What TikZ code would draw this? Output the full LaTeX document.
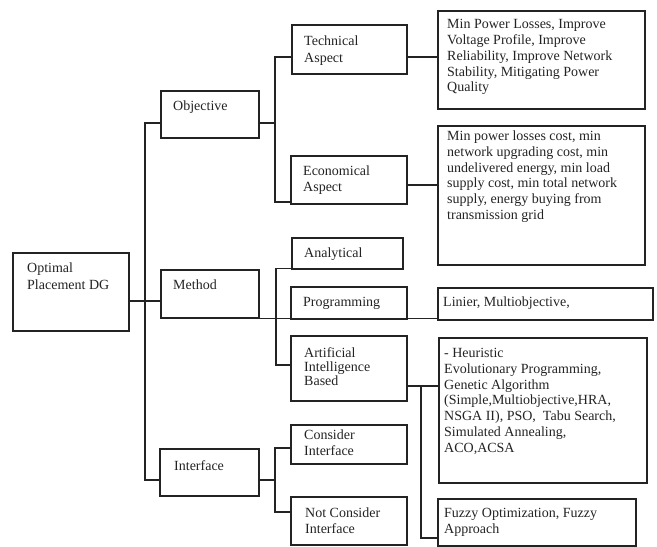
\documentclass[tikz,border=0pt]{standalone}
\usepackage{fontspec}
\setmainfont{Liberation Serif}
\definecolor{ink}{RGB}{35,35,35}
\begin{document}
\begin{tikzpicture}[x=1pt,y=-1pt,
  box/.style={draw=ink, line width=1.4pt, inner sep=0pt, outer sep=0pt, anchor=north west},
  lbl/.style={text=ink, font=\fontsize{14}{16}\selectfont, align=left, inner sep=0pt, anchor=north west,
              execute at begin node=\rule{0pt}{10pt}},
  wire/.style={draw=ink, line width=1.4pt}]
\useasboundingbox (0,0) rectangle (657,547);

% boxes
\node[box, minimum width=116pt, minimum height=78pt] (opt) at (13,253) {};
\node[box, minimum width=98pt, minimum height=47pt] (obj) at (161,91) {};
\node[box, minimum width=98pt, minimum height=48pt] (met) at (161,270) {};
\node[box, minimum width=99pt, minimum height=47pt] (int) at (160,449) {};
\node[box, minimum width=115pt, minimum height=49pt] (tech) at (292,25) {};
\node[box, minimum width=116pt, minimum height=48pt] (econ) at (291,156) {};
\node[box, minimum width=111pt, minimum height=31pt] (ana) at (292,238) {};
\node[box, minimum width=116pt, minimum height=32pt] (prog) at (291,287) {};
\node[box, minimum width=116pt, minimum height=65pt] (ai) at (291,336) {};
\node[box, minimum width=116pt, minimum height=39pt] (cons) at (291,425) {};
\node[box, minimum width=116pt, minimum height=48pt] (ncons) at (291,497) {};
\node[box, minimum width=207pt, minimum height=98pt] (techd) at (438,11) {};
\node[box, minimum width=207pt, minimum height=139pt] (econd) at (438,126) {};
\node[box, minimum width=215pt, minimum height=32pt] (lin) at (438,288) {};
\node[box, minimum width=208pt, minimum height=145pt] (aid) at (439,338) {};
\node[box, minimum width=198pt, minimum height=47pt] (fuz) at (438,499) {};

% texts
\node[lbl, font=\fontsize{14}{16.5}\selectfont] (optT) at ([shift={(14,10)}]opt.north west) {Optimal\\Placement DG};
\node[lbl] (objT) at ([shift={(12,9)}]obj.north west) {Objective};
\node[lbl] (metT) at ([shift={(12,9.5)}]met.north west) {Method};
\node[lbl] (intT) at ([shift={(14,11)}]int.north west) {Interface};
\node[lbl, font=\fontsize{14}{16.7}\selectfont] (techT) at ([shift={(12,10.5)}]tech.north west) {Technical\\Aspect};
\node[lbl] (econT) at ([shift={(12,10)}]econ.north west) {Economical\\Aspect};
\node[lbl] (anaT) at ([shift={(12,9)}]ana.north west) {Analytical};
\node[lbl] (progT) at ([shift={(12,9.5)}]prog.north west) {Programming};
\node[lbl, font=\fontsize{14}{14.3}\selectfont] (aiT) at ([shift={(13,11)}]ai.north west) {Artificial\\Intelligence\\Based};
\node[lbl] (consT) at ([shift={(13,4.5)}]cons.north west) {Consider\\Interface};
\node[lbl] (nconsT) at ([shift={(14,11)}]ncons.north west) {Not Consider\\Interface};
\node[lbl, font=\fontsize{14}{15.7}\selectfont] (techdT) at ([shift={(9,8.5)}]techd.north west)
  {Min Power Losses, Improve\\Voltage Profile, Improve\\Reliability, Improve Network\\Stability, Mitigating Power\\Quality};
\node[lbl, font=\fontsize{14}{15.8}\selectfont] (econdT) at ([shift={(9,4.5)}]econd.north west)
  {Min power losses cost, min\\network upgrading cost, min\\undelivered energy, min load\\supply cost, min total network\\supply, energy buying from\\transmission grid};
\node[lbl] (linT) at ([shift={(5,8.5)}]lin.north west) {Linier, Multiobjective,};
\node[lbl, font=\fontsize{14}{15.8}\selectfont] (aidT) at ([shift={(5,10)}]aid.north west)
  {- Heuristic\\Evolutionary Programming,\\Genetic Algorithm\\(Simple,Multiobjective,HRA,\\NSGA II), PSO,\ \ Tabu Search,\\Simulated Annealing,\\ACO,ACSA};
\node[lbl, font=\fontsize{14}{16.5}\selectfont] (fuzT) at ([shift={(6,9)}]fuz.north west) {Fuzzy Optimization, Fuzzy\\Approach};

% junction coordinates
\coordinate (jo) at (145,123);
\coordinate (jm) at (145,301);
\coordinate (ji) at (145,480);
\coordinate (bo1) at (275,57);
\coordinate (bo2) at (275,202);
\coordinate (bo) at (275,123);
\coordinate (te) at (420,57);
\coordinate (ee) at (420,185);
\coordinate (jl) at (300,318.5);
\coordinate (ma) at (276,268.5);
\coordinate (mb) at (276,365);
\coordinate (ii) at (275,480);
\coordinate (ic1) at (275,448);
\coordinate (ic2) at (275,512);
\coordinate (ja) at (421,386);
\coordinate (jf) at (421,538);

% connectors
\draw[wire] (opt.east |- jm) -- (met.west |- jm);
\draw[wire] (obj.west |- jo) -- (jo) -- (ji) -- (int.west |- ji);
\draw[wire] (obj.east |- bo) -- (bo);
\draw[wire] (tech.west |- bo1) -- (bo1) -- (bo2) -- (econ.west |- bo2);
\draw[wire] (tech.east |- te) -- (techd.west |- te);
\draw[wire] (econ.east |- ee) -- (econd.west |- ee);
\draw[wire] (met.east |- jl) -- (lin.west |- jl);
\draw[wire] (ana.west |- ma) -- (ma) -- (mb) -- (ai.west |- mb);
\draw[wire] (int.east |- ii) -- (ii);
\draw[wire] (cons.west |- ic1) -- (ic1) -- (ic2) -- (ncons.west |- ic2);
\draw[wire] (ai.east |- ja) -- (aid.west |- ja);
\draw[wire] (ja) -- (jf) -- (fuz.west |- jf);
\end{tikzpicture}
\end{document}
